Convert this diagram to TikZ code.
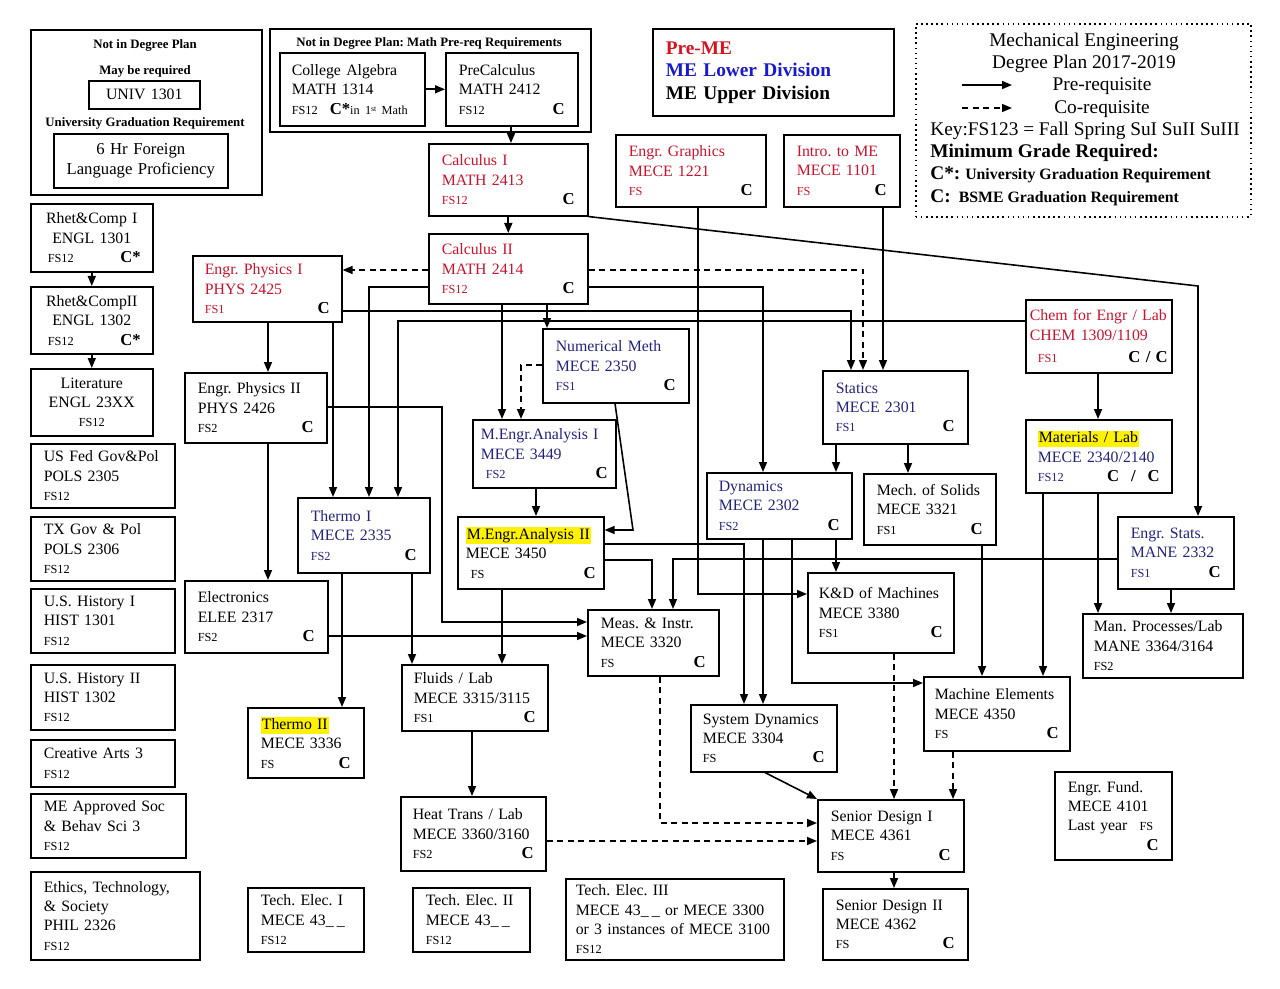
\documentclass[tikz,border=0pt]{standalone}
\usepackage{fontspec}
\setmainfont{Liberation Serif}
\usetikzlibrary{arrows.meta}

\definecolor{premered}{RGB}{200,20,45}
\definecolor{lowblue}{RGB}{35,35,125}
\definecolor{legred}{RGB}{215,20,30}
\definecolor{legblue}{RGB}{25,25,205}

\newcommand\crsfs{\fontsize{7}{8}\selectfont}
\newcommand\crsgrade[1]{{\color{black}\fontsize{9.5}{11}\selectfont\bfseries #1}}
\newcommand\crshl[1]{{\setlength{\fboxsep}{0.6pt}\colorbox{yellow}{\vphantom{Tg}#1}}}
\newcommand\crsfill{\hskip 0pt plus 1filll\relax}

\begin{document}
\frenchspacing
\begin{tikzpicture}[
        x=0.02cm, y=-0.02cm,
        crs/.style ={draw, line width=0.9pt, anchor=north west, align=left,
                     inner ysep=1pt, font=\fontsize{9}{11}\selectfont},
        gen/.style ={crs, align=center},
        wh/.code n args={3}{%
            \pgfmathsetlengthmacro\whw{#1*0.2mm}%
            \pgfmathsetlengthmacro\whh{#2*0.2mm}%
            \pgfmathsetlengthmacro\whs{#3*0.2mm}%
            \pgfmathsetlengthmacro\wht{(#1-2*#3)*0.2mm}%
            \edef\crsnext{\noexpand\tikzset{minimum width=\whw, minimum height=\whh,
                inner xsep=\whs, text width=\wht}}\crsnext},
        hdr/.style ={font=\fontsize{7.3}{9}\selectfont\bfseries, inner sep=0pt},
        keyt/.style={font=\fontsize{11}{13}\selectfont, inner sep=0pt},
        pre/.style ={-{Triangle[length=2mm,width=1.6mm]}, line width=0.9pt},
        co/.style  ={pre, dash pattern=on 1.2mm off 0.9mm},
    ]
    \useasboundingbox[fill=white] (0,0) rectangle (1280,989);

    % ===================== Not in degree plan (top left) =====================
    \node[crs, wh={231}{165}{0}] (notdeg) at (30,29) {};
    \node[hdr] (ndt) at (145,45) {Not in Degree Plan};
    \node[hdr] (ndm) at (145,71) {May be required};
    \node[gen, wh={111}{28}{0}] (univ) at (88,80) {UNIV 1301};
    \node[hdr] (ndu) at (145,123) {University Graduation Requirement};
    \node[gen, wh={174}{54}{0}, font=\fontsize{9.5}{11}\selectfont] (lang) at (53,133)
        {6 Hr Foreign\\Language Proficiency};

    % ===================== Math pre-req =====================
    \node[crs, wh={321}{103}{0}] (mathreq) at (269,28) {};
    \node[hdr] (mrt) at (429,43) {Not in Degree Plan: Math Pre-req Requirements};
    \node[crs, wh={145}{73}{12}] (ca) at (279,52)
        {College Algebra\\MATH 1314\\\mbox{{\crsfs FS12}\hspace{2.4mm}\crsgrade{C*}{\crsfs in 1\raisebox{0.5ex}{\fontsize{4.5}{5}\selectfont st} Math}}};
    \node[crs, wh={132}{73}{13}] (pc) at (445,52)
        {PreCalculus\\MATH 2412\\{\crsfs FS12}\crsfill\crsgrade{C}};

    % ===================== Legends =====================
    \node[crs, wh={241}{87}{13}, font=\fontsize{11}{12.8}\selectfont\bfseries] (legend) at (652,28)
        {\textcolor{legred}{Pre-ME}\\\textcolor{legblue}{ME Lower Division}\\ME Upper Division};

    \node[crs, dotted, wh={335}{193}{0}] (keybox) at (915,23) {};
    \node[keyt] (kt1) at (1084,42) {Mechanical Engineering};
    \node[keyt] (kt2) at (1084,64) {Degree Plan 2017-2019};
    \coordinate (kpa) at (962,85);
    \coordinate (kpb) at (1012,85);
    \draw[pre] (kpa) -- (kpb);
    \node[keyt] (kt3) at (1102,86) {Pre-requisite};
    \coordinate (kca) at (962,108);
    \coordinate (kcb) at (1012,108);
    \draw[co] (kca) -- (kcb);
    \node[keyt] (kt4) at (1102,109) {Co-requisite};
    \node[keyt, anchor=west] (kt5) at (930,131) {Key:FS123 = Fall Spring SuI SuII SuIII};
    \node[keyt, anchor=west, font=\fontsize{11}{13}\selectfont\bfseries] (kt6) at (930,153)
        {Minimum Grade Required:};
    \node[keyt, anchor=west] (kt7) at (930,175)
        {\textbf{C*:} {\fontsize{9}{10}\selectfont\bfseries University Graduation Requirement}};
    \node[keyt, anchor=west] (kt8) at (930,198)
        {\textbf{C:}\hspace{1.6mm}{\fontsize{9}{10}\selectfont\bfseries BSME Graduation Requirement}};

    % ===================== General education (left column) =====================
    \node[gen, wh={122}{68}{12}] (rhet1) at (30,203)
        {Rhet\&Comp I\\ENGL 1301\\\hspace{1mm}{\crsfs FS12}\crsfill\crsgrade{C*}\hspace{1mm}};
    \node[gen, wh={122}{67}{12}] (rhet2) at (30,286)
        {Rhet\&CompII\\ENGL 1302\\\hspace{1mm}{\crsfs FS12}\crsfill\crsgrade{C*}\hspace{1mm}};
    \node[gen, wh={122}{67}{12}] (lit) at (30,368) {Literature\\ENGL 23XX\\{\crsfs FS12}};
    \node[crs, wh={144}{64}{13}] (usfed) at (30,443) {US Fed Gov\&Pol\\POLS 2305\\{\crsfs FS12}};
    \node[crs, wh={144}{64}{13}] (txgov) at (30,516) {TX Gov \& Pol\\POLS 2306\\{\crsfs FS12}};
    \node[crs, wh={144}{64}{13}] (hist1) at (30,588) {U.S. History I\\HIST 1301\\{\crsfs FS12}};
    \node[crs, wh={144}{65}{13}] (hist2) at (30,664) {U.S. History II\\HIST 1302\\{\crsfs FS12}};
    \node[crs, wh={144}{47}{13}] (arts) at (30,739) {Creative Arts 3\\{\crsfs FS12}};
    \node[crs, wh={155}{64}{13}] (soc) at (30,793) {ME Approved Soc\\\& Behav Sci 3\\{\crsfs FS12}};
    \node[crs, wh={169}{88}{13}] (ethics) at (30,871)
        {Ethics, Technology,\\\& Society\\PHIL 2326\\{\crsfs FS12}};

    \draw[pre] (rhet1) -- (rhet2);
    \draw[pre] (rhet2) -- (lit);

    % ===================== Pre-ME (red) =====================
    \node[crs, wh={159}{72}{13}, text=premered] (calcI) at (428,143)
        {Calculus I\\MATH 2413\\{\crsfs FS12}\crsfill\crsgrade{C}};
    \node[crs, wh={159}{70}{13}, text=premered] (calcII) at (428,233)
        {Calculus II\\MATH 2414\\{\crsfs FS12}\crsfill\crsgrade{C}};
    \node[crs, wh={150}{72}{13}, text=premered] (graph) at (615,134)
        {Engr. Graphics\\MECE 1221\\{\crsfs FS}\crsfill\crsgrade{C}};
    \node[crs, wh={116}{72}{13}, text=premered] (intro) at (783,134)
        {Intro. to ME\\MECE 1101\\{\crsfs FS}\crsfill\crsgrade{C}};
    \node[crs, wh={149}{66}{12}, text=premered] (physI) at (192,255)
        {Engr. Physics I\\PHYS 2425\\{\crsfs FS1}\crsfill\crsgrade{C}};
    \node[crs, wh={146}{73}{4}, text=premered] (chem) at (1025,299)
        {\mbox{Chem for Engr / Lab}\\CHEM 1309/1109\\[2pt]\hspace{1.6mm}{\crsfs FS1}\crsfill\crsgrade{C / C}\hspace{1.8mm}};

    % ===================== ME lower division (blue) =====================
    \node[crs, wh={146}{74}{13}, text=lowblue] (num) at (542,328)
        {Numerical Meth\\MECE 2350\\{\crsfs FS1}\crsfill\crsgrade{C}};
    \node[crs, wh={145}{73}{13}, text=lowblue] (statics) at (822,370)
        {Statics\\MECE 2301\\{\crsfs FS1}\crsfill\crsgrade{C}};
    \node[crs, wh={146}{73}{12}, text=lowblue] (mat) at (1025,419)
        {\crshl{\color{black}Materials / Lab}\\MECE 2340/2140\\{\crsfs FS12}\crsfill\crsgrade{C\hspace{2.4mm}/\hspace{2.4mm}C}};
    \node[crs, wh={143}{68}{8}, text=lowblue] (meaI) at (472,419)
        {M.Engr.Analysis I\\MECE 3449\\\hspace{1mm}{\crsfs FS2}\crsfill\crsgrade{C}\hspace{1.2mm}};
    \node[crs, wh={132}{75}{13}, text=lowblue] (thermoI) at (297,497)
        {Thermo I\\MECE 2335\\{\crsfs FS2}\crsfill\crsgrade{C}};
    \node[crs, wh={145}{66}{12}, text=lowblue] (dyn) at (706,472)
        {Dynamics\\MECE 2302\\{\crsfs FS2}\crsfill\crsgrade{C}};
    \node[crs, wh={116}{72}{13}, text=lowblue] (eStats) at (1117,516)
        {Engr. Stats.\\MANE 2332\\{\crsfs FS1}\crsfill\crsgrade{C}};

    % ===================== ME upper division / others (black) =====================
    \node[crs, wh={142}{70}{13}] (physII) at (184,372)
        {Engr. Physics II\\PHYS 2426\\{\crsfs FS2}\crsfill\crsgrade{C}};
    \node[crs, wh={146}{72}{8}] (meaII) at (457,516)
        {\crshl{M.Engr.Analysis II}\\MECE 3450\\\hspace{1mm}{\crsfs FS}\crsfill\crsgrade{C}\hspace{1.2mm}};
    \node[crs, wh={132}{71}{13}] (mos) at (863,473)
        {Mech. of Solids\\MECE 3321\\{\crsfs FS1}\crsfill\crsgrade{C}};
    \node[crs, wh={143}{72}{13}] (elec) at (184,580)
        {Electronics\\ELEE 2317\\{\crsfs FS2}\crsfill\crsgrade{C}};
    \node[crs, wh={131}{66}{13}] (meas) at (587,609)
        {Meas. \& Instr.\\MECE 3320\\{\crsfs FS}\crsfill\crsgrade{C}};
    \node[crs, wh={146}{80}{11}] (kd) at (807,572)
        {K\&D of Machines\\MECE 3380\\{\crsfs FS1}\crsfill\crsgrade{C}\hspace{0.4mm}};
    \node[crs, wh={160}{64}{11}] (manProc) at (1082,613)
        {Man. Processes/Lab\\MANE 3364/3164\\{\crsfs FS2}};
    \node[crs, wh={146}{66}{12}] (fluids) at (401,664)
        {Fluids / Lab\\MECE 3315/3115\\{\crsfs FS1}\crsfill\crsgrade{C}};
    \node[crs, wh={116}{70}{13}] (thermoII) at (247,707)
        {\crshl{Thermo II}\\MECE 3336\\{\crsfs FS}\crsfill\crsgrade{C}};
    \node[crs, wh={146}{67}{12}] (sysdyn) at (690,704)
        {System Dynamics\\MECE 3304\\{\crsfs FS}\crsfill\crsgrade{C}};
    \node[crs, wh={146}{74}{11}] (machEl) at (923,676)
        {Machine Elements\\MECE 4350\\{\crsfs FS}\crsfill\crsgrade{C}\hspace{0.4mm}};
    \node[crs, wh={117}{88}{13}] (fund) at (1054,771)
        {Engr. Fund.\\MECE 4101\\Last year\hspace{2.4mm}{\crsfs FS}\\\mbox{}\crsfill\crsgrade{C}\hspace{1.2mm}};
    \node[crs, wh={145}{74}{12}] (heat) at (400,796)
        {Heat Trans / Lab\\MECE 3360/3160\\{\crsfs FS2}\crsfill\crsgrade{C}};
    \node[crs, wh={146}{72}{13}] (sd1) at (817,799)
        {Senior Design I\\MECE 4361\\{\crsfs FS}\crsfill\crsgrade{C}};
    \node[crs, wh={145}{71}{13}] (sd2) at (822,888)
        {Senior Design II\\MECE 4362\\{\crsfs FS}\crsfill\crsgrade{C}};
    \node[crs, wh={116}{64}{13}] (techI) at (247,887)
        {\mbox{Tech. Elec. I}\\MECE 43\_\hspace{0.2em}\_\\{\crsfs FS12}};
    \node[crs, wh={117}{64}{13}] (techII) at (412,887)
        {\mbox{Tech. Elec. II}\\MECE 43\_\hspace{0.2em}\_\\{\crsfs FS12}};
    \node[crs, wh={218}{81}{10}] (techIII) at (565,878)
        {Tech. Elec. III\\MECE 43\_\hspace{0.2em}\_ or MECE 3300\\or 3 instances of MECE 3100\\{\crsfs FS12}};

    % ===================== Pre-requisites =====================
    \coordinate (bendS) at (1198,286);
    \draw[pre] (ca) -- (pc);
    \draw[pre] (pc.south -| 511,0) -- (calcI.north -| 511,0);
    \draw[pre] (calcI) -- (calcII);
    \draw[pre] (calcI.south east) -- (bendS) -- (eStats.north -| bendS);

    \draw[co]  (calcII.west |- 0,270) -- (physI.east |- 0,270);
    \draw[co]  (calcII.east |- 0,270) -| (statics.north -| 863,0);
    \draw[pre] (calcII.east |- 0,287) -| (dyn.north -| 763,0);
    \draw[pre] (calcII.west |- 0,287) -| (thermoI.north -| 369,0);
    \draw[pre] (calcII.south -| 547,0) -- (num.north -| 547,0);
    \draw[pre] (calcII.south -| 502,0) -- (meaI.north -| 502,0);

    \draw[pre] (physI.east |- 0,311) -| (statics.north -| 851,0);
    \draw[pre] (physI.south -| 333,0) -- (thermoI.north -| 333,0);
    \draw[pre] (physI.south -| 268,0) -- (physII.north -| 268,0);
    \draw[pre] (chem.west |- 0,321) -| (thermoI.north -| 398,0);
    \draw[pre] (chem.south -| 1098,0) -- (mat.north -| 1098,0);

    \draw[pre] (physII.south -| 268,0) -- (elec.north -| 268,0);
    \draw[pre] (physII.east |- 0,407) -| (442,622) -- (meas.west |- 0,622);
    \draw[pre] (elec.east |- 0,636) -- (meas.west |- 0,636);
    \draw[pre] (thermoI.south -| 342,0) -- (thermoII.north -| 342,0);
    \draw[pre] (thermoI.south -| 412,0) -- (fluids.north -| 412,0);

    \draw[pre] (meaI.south -| 536,0) -- (meaII.north -| 536,0);
    \draw[pre] (num.south -| 615,0) -- (633,530) -- (meaII.east |- 0,530);
    \draw[co]  (num.west |- 0,365) -| (meaI.north -| 521,0);
    \draw[pre] (meaII.east |- 0,544) -| (sysdyn.north -| 744,0);
    \draw[pre] (meaII.east |- 0,560) -| (meas.north -| 652,0);
    \draw[pre] (meaII.south -| 502,0) -- (fluids.north -| 502,0);
    \draw[pre] (eStats.west |- 0,559) -| (meas.north -| 673,0);

    \draw[pre] (graph.south -| 698,0) |- (kd.west |- 0,594);
    \draw[pre] (intro.south -| 883,0) -- (statics.north -| 883,0);
    \draw[pre] (statics.south -| 836,0) -- (dyn.north -| 836,0);
    \draw[pre] (statics.south -| 908,0) -- (mos.north -| 908,0);
    \draw[pre] (dyn.south -| 763,0) -- (sysdyn.north -| 763,0);
    \draw[pre] (dyn.south -| 836,0) -- (kd.north -| 836,0);
    \draw[pre] (dyn.south -| 792,0) |- (machEl.west |- 0,683);
    \draw[pre] (mos.south -| 982,0) -- (machEl.north -| 982,0);
    \draw[pre] (mat.south -| 1043,0) -- (machEl.north -| 1043,0);
    \draw[pre] (mat.south -| 1098,0) -- (manProc.north -| 1098,0);
    \draw[pre] (eStats.south -| 1171,0) -- (manProc.north -| 1171,0);

    % ===================== Senior design =====================
    \draw[co]  (meas.south -| 660,0) |- (sd1.west |- 0,823);
    \draw[co]  (heat.east |- 0,841) -- (sd1.west |- 0,841);
    \draw[pre] (sysdyn.south -| 765,0) -- (sd1.north west);
    \draw[co]  (kd.south -| 894,0) -- (sd1.north -| 894,0);
    \draw[co]  (machEl.south -| 953,0) -- (sd1.north -| 953,0);
    \draw[pre] (sd1.south -| 894,0) -- (sd2.north -| 894,0);
    \draw[pre] (fluids.south -| 472,0) -- (heat.north -| 472,0);
\end{tikzpicture}
\end{document}
